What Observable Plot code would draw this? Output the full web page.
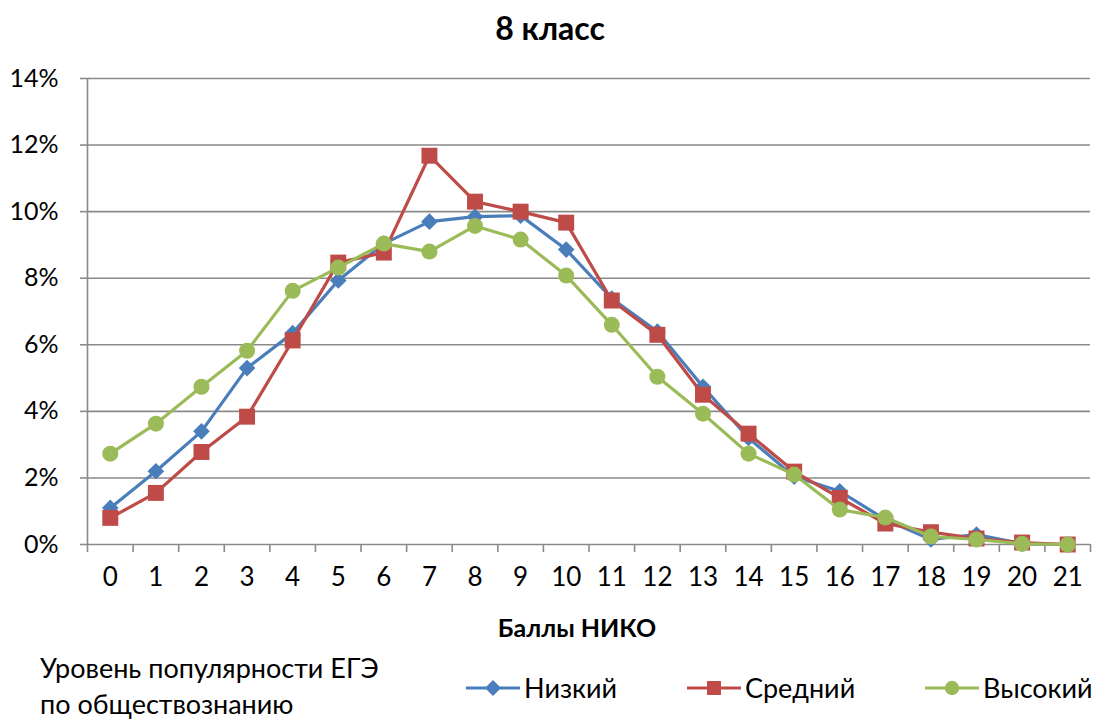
<!DOCTYPE html>
<html><head><meta charset="utf-8">
<script src="https://cdn.jsdelivr.net/npm/d3@7"></script>
<script src="https://cdn.jsdelivr.net/npm/@observablehq/plot@0.6"></script>
<style>
body{margin:0;background:#fff;font-family:Lato,"Noto Sans",sans-serif;color:#000}
#wrap{position:relative;width:1094px;height:720px;overflow:hidden;background:#fff}
#title{position:absolute;top:9px;left:0;width:1100px;text-align:center;font-weight:bold;font-size:32px;line-height:38px}
#chart{position:absolute;top:50px;left:0}
#xlabel{position:absolute;top:612px;left:0;width:1154px;text-align:center;font-weight:bold;font-size:25px;line-height:30px}
#legtitle{position:absolute;top:650px;left:40px;font-size:27px;line-height:36px;white-space:nowrap}
.leg{position:absolute;top:672px;font-size:27px;line-height:32px;display:flex;align-items:center}
.leg svg{display:block;margin-right:4px}
</style></head>
<body><div id="wrap">
<div id="title">8 класс</div>
<div id="chart"></div>
<div id="xlabel">Баллы НИКО</div>
<div id="legtitle">Уровень популярности ЕГЭ<br>по обществознанию</div>
<div id="legend"></div>
</div>
<script>
const scores = [0,1,2,3,4,5,6,7,8,9,10,11,12,13,14,15,16,17,18,19,20,21];
const low  = [1.1,2.2,3.4,5.3,6.35,7.93,9.04,9.7,9.85,9.88,8.86,7.39,6.4,4.74,3.2,2.04,1.6,0.75,0.15,0.3,0.02,0.0];
const mid  = [0.8,1.55,2.78,3.84,6.13,8.47,8.77,11.68,10.3,10.0,9.67,7.33,6.3,4.5,3.33,2.19,1.4,0.63,0.37,0.18,0.06,0.0];
const high = [2.73,3.63,4.74,5.82,7.62,8.32,9.04,8.8,9.57,9.16,8.08,6.6,5.04,3.93,2.73,2.1,1.05,0.81,0.24,0.15,0.02,0.0];
const seriesNames = ["Низкий","Средний","Высокий"];
const colors = ["#4a7ebb","#be4b48","#9bbb59"];
const symbols = ["diamond2","square","circle"];
const radii = [7.5,9,8];
const yTicks = [0,2,4,6,8,10,12,14];

const allSeries = [low, mid, high].map((vals, i) => ({
  name: seriesNames[i],
  rows: scores.map((s, j) => ({score: s, value: vals[j]}))
}));

const bounds = scores.map(s => s - 0.5).concat([scores[scores.length-1] + 0.5]);
const grid = "#8a8a8a";

const marks = [
  Plot.gridY(yTicks, {stroke: grid, strokeOpacity: 1, strokeWidth: 1.6}),
  Plot.ruleX([bounds[0]], {stroke: grid, strokeWidth: 1.6}),
  Plot.axisY(yTicks, {tickSize: 7, tickPadding: 22, tickFormat: d => d + "%", stroke: grid, strokeWidth: 1.6, label: null, fontSize: 25}),
  Plot.axisX(scores, {tickSize: 0, tickPadding: 23, label: null, fontSize: 26, tickFormat: d => String(d)}),
  Plot.axisX(bounds, {tickSize: 8, tickFormat: () => "", stroke: grid, strokeWidth: 1.6, label: null})
];
allSeries.forEach((s, i) => {
  marks.push(Plot.line(s.rows, {x: "score", y: "value", stroke: colors[i], strokeWidth: 3.2}));
  marks.push(Plot.dot(s.rows, {x: "score", y: "value", symbol: symbols[i], r: radii[i], fill: colors[i], stroke: "none"}));
});

const chart = Plot.plot({
  width: 1094, height: 600,
  marginLeft: 87, marginRight: 4, marginTop: 28, marginBottom: 106,
  style: {fontFamily: "Lato, 'Noto Sans', sans-serif", fontSize: "25px", color: "#000", background: "transparent"},
  x: {type: "linear", domain: [bounds[0], bounds[bounds.length-1]]},
  y: {domain: [0, 14]},
  marks
});
document.getElementById("chart").appendChild(chart);

// legend
const legX = [466, 687, 925];
const legend = document.getElementById("legend");
seriesNames.forEach((n, i) => {
  const div = document.createElement("div");
  div.className = "leg";
  div.style.left = legX[i] + "px";
  let marker;
  if (i === 0) marker = `<path d="M27,2 L35,10 L27,18 L19,10 Z" fill="${colors[i]}"/>`;
  else if (i === 1) marker = `<rect x="20" y="3" width="14" height="14" fill="${colors[i]}"/>`;
  else marker = `<circle cx="27" cy="10" r="7.2" fill="${colors[i]}"/>`;
  div.innerHTML = `<svg width="54" height="20"><line x1="0" y1="10" x2="54" y2="10" stroke="${colors[i]}" stroke-width="3.2"/>${marker}</svg><span>${n}</span>`;
  legend.appendChild(div);
});
</script>
</body></html>
